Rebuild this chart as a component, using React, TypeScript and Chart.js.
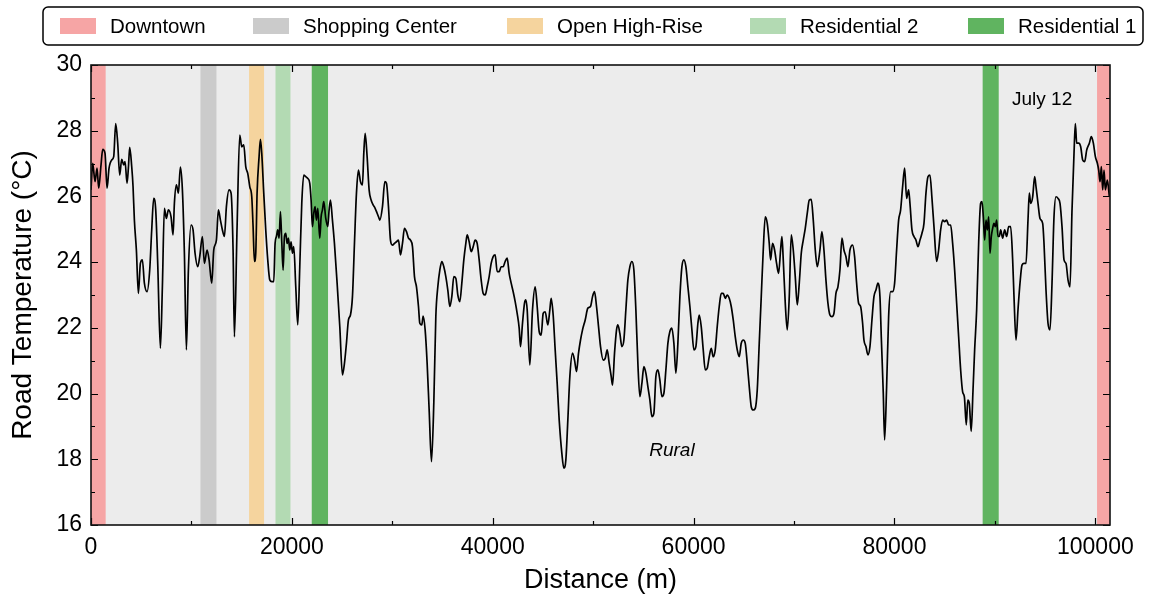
import React, { useEffect, useRef } from "react";
import { Chart, registerables } from "chart.js";

Chart.register(...registerables);

const FONT = "'Liberation Sans', Arial, Helvetica, sans-serif";

// Distance along the route (m)
const distance = [
  0, 169, 401, 601, 767, 999, 1165, 1397, 1597, 1796, 2061, 2261, 2460, 2659, 2858, 3057, 3257, 3389, 3589, 3721,
  3854, 4053, 4186, 4319, 4518, 4717, 4917, 5116, 5315, 5581, 5846, 6045, 6245, 6444, 6643, 6909, 7108, 7307, 7506, 7705,
  7971, 8170, 8303, 8502, 8701, 8901, 9100, 9299, 9498, 9697, 9963, 10162, 10361, 10627, 10826, 11092, 11291, 11557, 11756, 12021,
  12221, 12486, 12685, 12885, 13084, 13283, 13482, 13748, 13947, 14146, 14279, 14545, 14811, 15010, 15209, 15408, 15607, 15807, 16006, 16139,
  16271, 16404, 16537, 16736, 16869, 17002, 17201, 17400, 17599, 17799, 17998, 18197, 18330, 18463, 18595, 18728, 18861, 18994, 19127, 19259,
  19392, 19525, 19658, 19791, 19923, 20056, 20189, 20388, 20587, 20787, 20986, 21185, 21384, 21583, 21783, 21915, 22048, 22181, 22314, 22447,
  22579, 22779, 22911, 23044, 23177, 23376, 23575, 23708, 23841, 24040, 24239, 24505, 24771, 25036, 25235, 25434, 25634, 25833, 26032, 26232,
  26431, 26630, 26829, 27028, 27161, 27294, 27493, 27692, 27891, 28091, 28290, 28489, 28688, 28755, 29021, 29253, 29419, 29618, 29817, 30017,
  30216, 30415, 30614, 30813, 31013, 31212, 31411, 31610, 31809, 32009, 32208, 32407, 32606, 32739, 32938, 33071, 33270, 33469, 33669, 33901,
  34133, 34333, 34532, 34731, 34930, 35129, 35329, 35528, 35727, 35926, 36125, 36325, 36524, 36723, 36922, 37121, 37321, 37453, 37653, 37852,
  38051, 38250, 38449, 38649, 38848, 39047, 39246, 39445, 39645, 39844, 40043, 40242, 40441, 40641, 40840, 41039, 41238, 41437, 41637, 41836,
  42035, 42234, 42433, 42633, 42765, 42965, 43164, 43296, 43429, 43694, 43960, 44226, 44425, 44624, 44823, 45022, 45222, 45487, 45686, 45819,
  46018, 46218, 46417, 46616, 46882, 47081, 47280, 47479, 47678, 47944, 48143, 48342, 48542, 48741, 48940, 49206, 49471, 49737, 49936, 50135,
  50334, 50534, 50733, 50998, 51198, 51397, 51596, 51795, 51928, 52127, 52326, 52459, 52658, 52858, 53057, 53256, 53455, 53654, 53854, 54053,
  54252, 54451, 54650, 54850, 55049, 55248, 55447, 55646, 55846, 56045, 56244, 56443, 56642, 56842, 57041, 57240, 57439, 57638, 57838, 58037,
  58236, 58435, 58635, 58834, 59033, 59232, 59432, 59631, 59830, 60029, 60228, 60428, 60560, 60760, 60959, 61158, 61357, 61556, 61756, 61955,
  62154, 62353, 62552, 62752, 62951, 63150, 63349, 63548, 63748, 63947, 64146, 64345, 64544, 64744, 64943, 65142, 65341, 65540, 65740, 65939,
  66138, 66337, 66536, 66736, 66935, 67134, 67333, 67532, 67665, 67864, 68064, 68263, 68462, 68661, 68794, 68927, 69126, 69326, 69525, 69724,
  69923, 70122, 70322, 70521, 70720, 70919, 71118, 71318, 71517, 71716, 71915, 72114, 72314, 72578, 72777, 72977, 73176, 73375, 73574, 73773,
  73973, 74172, 74371, 74570, 74769, 74969, 75168, 75367, 75566, 75832, 76031, 76230, 76429, 76629, 76828, 76961, 77160, 77359, 77558, 77757,
  77957, 78156, 78355, 78554, 78687, 78886, 79019, 79218, 79418, 79617, 79816, 80015, 80214, 80414, 80613, 80812, 81011, 81210, 81410, 81542,
  81742, 81941, 82140, 82339, 82538, 82738, 82937, 83136, 83335, 83534, 83734, 83933, 84198, 84398, 84597, 84796, 84995, 85194, 85394, 85593,
  85792, 85991, 86191, 86390, 86589, 86788, 86960, 87150, 87300, 87450, 87640, 87820, 87983, 88183, 88382, 88581, 88714, 88847, 88980, 89112,
  89245, 89378, 89511, 89643, 89776, 89909, 90042, 90175, 90307, 90440, 90573, 90772, 90971, 91170, 91370, 91569, 91768, 91901, 92100, 92299,
  92498, 92698, 92897, 93096, 93295, 93428, 93561, 93760, 93959, 94092, 94291, 94491, 94756, 94889, 95088, 95287, 95487, 95686, 95885, 96084,
  96283, 96483, 96682, 96881, 97080, 97279, 97479, 97678, 97877, 98010, 98143, 98342, 98541, 98740, 98940, 99139, 99404, 99603, 99803, 100002,
  100201, 100334, 100467, 100600, 100732, 100865, 100998, 101197, 101397,
];

// Road temperature (°C)
const temperature = [
  26.2, 27.01, 26.45, 26.86, 26.25, 26.96, 27.43, 27.31, 26.25, 26.86, 27.11, 27.21, 28.22, 27.62, 26.65, 27.13, 26.96, 27.06, 26.4, 26.86,
  27.49, 26.91, 26.3, 25.28, 24.37, 23.05, 23.96, 24.07, 23.36, 23.1, 23.76, 24.98, 25.94, 25.59, 23.96, 21.38, 23.26, 25.64, 25.33, 25.59,
  25.38, 24.83, 25.79, 26.35, 26.1, 26.89, 26.2, 24.27, 21.33, 23.76, 25.13, 24.98, 24.27, 23.86, 24.17, 24.78, 23.96, 24.37, 24.07, 23.36,
  24.37, 24.67, 25.59, 25.28, 24.98, 24.78, 25.69, 26.2, 26.1, 24.37, 21.73, 25.08, 27.87, 27.51, 27.57, 26.91, 26.7, 26.3, 25.99, 25.08,
  24.02, 24.27, 26.1, 27.21, 27.74, 27.31, 26.1, 24.98, 24.07, 23.46, 23.41, 23.41, 24.57, 24.78, 24.98, 24.73, 25.54, 24.62, 23.76, 24.78,
  24.88, 24.57, 24.73, 24.37, 24.62, 24.27, 24.47, 23.25, 22.09, 23.86, 25.79, 26.65, 26.6, 26.55, 26.4, 25.89, 25.08, 25.49, 25.69, 25.28,
  25.64, 24.73, 25.38, 25.59, 25.84, 25.33, 25.08, 25.59, 25.89, 25.28, 24.57, 23.36, 22.04, 20.57, 20.92, 21.53, 22.24, 22.39, 22.95, 24.57,
  26.1, 26.8, 26.45, 26.35, 27.31, 27.92, 27.21, 26.2, 25.89, 25.74, 25.64, 25.49, 25.33, 25.28, 25.69, 26.45, 26.4, 25.69, 24.67, 24.52,
  24.57, 24.62, 24.67, 24.22, 24.57, 25.03, 24.93, 24.73, 24.67, 24.47, 23.56, 23.25, 22.65, 22.14, 22.09, 22.36, 21.94, 20.92, 19.5, 17.93,
  19.71, 22.34, 23.25, 23.76, 24.02, 23.86, 23.56, 23.15, 22.65, 22.95, 23.56, 23.51, 23.0, 22.8, 23.36, 24.07, 24.57, 24.83, 24.62, 24.32,
  24.47, 24.67, 24.57, 24.07, 23.46, 23.05, 23.0, 23.25, 23.56, 23.96, 24.17, 24.22, 23.71, 23.71, 23.86, 23.86, 24.02, 24.12, 23.66, 23.36,
  23.1, 22.8, 22.44, 21.99, 21.43, 22.14, 22.75, 22.85, 22.55, 20.87, 22.55, 23.25, 22.65, 21.89, 21.78, 22.44, 22.49, 22.09, 22.55, 22.9,
  22.39, 21.33, 20.31, 19.2, 18.18, 17.73, 17.98, 19.2, 20.52, 21.23, 21.02, 20.67, 21.23, 21.63, 21.94, 22.24, 22.6, 22.65, 22.95, 23.1,
  22.65, 22.04, 21.43, 21.02, 21.07, 21.33, 20.92, 20.52, 20.26, 21.23, 21.94, 22.09, 21.83, 21.43, 21.63, 22.55, 23.46, 23.86, 24.02, 23.76,
  22.55, 20.92, 19.91, 20.31, 20.82, 20.62, 20.21, 19.81, 19.3, 19.4, 20.52, 20.72, 20.41, 19.91, 20.01, 20.72, 21.53, 21.89, 21.99, 21.53,
  20.62, 21.53, 22.95, 23.86, 24.07, 23.86, 23.25, 22.65, 21.94, 21.33, 21.43, 22.14, 22.39, 22.04, 21.33, 20.72, 20.77, 21.12, 21.38, 21.12,
  21.33, 22.04, 22.65, 23.05, 23.05, 22.9, 23.0, 22.9, 22.65, 22.24, 21.73, 21.33, 21.12, 21.53, 21.63, 21.53, 20.92, 20.21, 19.6, 19.5,
  19.55, 20.11, 21.53, 22.95, 24.37, 25.38, 25.18, 24.57, 24.07, 24.57, 24.37, 23.96, 23.66, 24.37, 24.78, 24.07, 22.75, 21.94, 22.95, 24.83,
  24.37, 23.56, 22.7, 23.36, 24.27, 24.67, 25.03, 25.49, 25.89, 25.91, 25.28, 24.37, 23.86, 24.37, 24.93, 24.37, 23.46, 22.75, 22.39, 22.34,
  22.44, 23.05, 23.25, 23.76, 24.73, 24.37, 24.17, 23.86, 24.37, 24.52, 24.17, 23.36, 22.75, 22.65, 22.14, 21.63, 21.43, 21.18, 21.43, 22.24,
  22.95, 23.15, 23.36, 22.95, 21.73, 20.01, 18.59, 20.21, 22.34, 23.1, 23.1, 23.36, 24.37, 25.28, 25.59, 26.3, 26.86, 25.94, 26.2, 25.79,
  24.98, 24.78, 24.67, 24.47, 24.67, 24.88, 25.18, 26.1, 26.6, 26.65, 25.94, 25.08, 24.02, 24.37, 24.98, 25.28, 25.23, 25.28, 25.13, 25.13,
  24.57, 23.76, 22.75, 21.73, 20.72, 20.05, 19.9, 19.05, 19.8, 19.7, 18.85, 20.1, 21.33, 22.55, 24.57, 25.79, 25.84, 25.38, 24.67, 25.28,
  24.98, 25.38, 24.27, 24.78, 25.03, 25.18, 25.08, 25.28, 24.78, 24.78, 24.98, 24.73, 24.98, 24.78, 25.08, 25.08, 24.07, 22.95, 21.63, 22.55,
  23.36, 23.91, 23.96, 23.96, 25.28, 26.1, 25.79, 25.99, 26.6, 26.3, 25.79, 25.33, 25.18, 24.57, 23.15, 22.14, 21.94, 23.36, 25.38, 25.99,
  25.94, 25.79, 25.08, 24.07, 23.96, 23.46, 23.25, 25.59, 27.31, 28.22, 27.62, 27.62, 27.51, 27.11, 27.06, 27.41, 27.62, 27.82, 27.62, 27.21,
  27.01, 26.8, 26.45, 26.91, 26.2, 26.8, 26.2, 26.5, 25.99,
];

// Zone categories (legend)
const zoneNames = ["Downtown", "Shopping Center", "Open High-Rise", "Residential 2", "Residential 1"];
const zoneColors = ["#f6a5a5", "#cbcbcb", "#f5d49e", "#b3dab3", "#60b460"];

// Zone bands along the route (zone index, start m, end m)
const bandZone = [0, 1, 2, 3, 4, 4, 0];
const bandStart = [0, 10900, 15740, 18370, 21980, 88780, 100170];
const bandEnd = [1460, 12490, 17230, 19860, 23600, 90380, 101460];

// Axis ranges and tick labels
const X_MIN = 0;
const X_MAX = 101460;
const Y_MIN = 16;
const Y_MAX = 30;
const xTickValues = [0, 20000, 40000, 60000, 80000, 100000];
const xMinorTickValues = [10000, 30000, 50000, 70000, 90000];
const yTickValues = [16, 18, 20, 22, 24, 26, 28, 30];
const yMinorTickValues = [17, 19, 21, 23, 25, 27, 29];

// Text annotations (data coordinates)
const dateLabel = "July 12";
const dateLabelPos = { x: 94700, y: 28.93 };
const ruralLabel = "Rural";
const ruralLabelPos = { x: 57840, y: 18.25 };

// Legend layout (pixels)
const LEGEND_BOX = { left: 43, top: 7, right: 1143, bottom: 45 };
const legendItemX = [60, 253, 507, 750, 968];

const decorPlugin = {
  id: "decor",
  beforeDatasetsDraw(chart: any) {
    const { ctx, chartArea: a, scales } = chart;
    const x = scales.x;
    ctx.save();
    ctx.fillStyle = "#ececec";
    ctx.fillRect(a.left, a.top, a.right - a.left, a.bottom - a.top);
    for (let i = 0; i < bandZone.length; i++) {
      const x0 = Math.max(a.left, x.getPixelForValue(bandStart[i]));
      const x1 = Math.min(a.right, x.getPixelForValue(bandEnd[i]));
      ctx.fillStyle = zoneColors[bandZone[i]];
      ctx.fillRect(x0, a.top, x1 - x0, a.bottom - a.top);
    }
    ctx.restore();
  },
  afterDatasetsDraw(chart: any) {
    const { ctx, chartArea: a, scales } = chart;
    const x = scales.x;
    const y = scales.y;
    ctx.save();
    ctx.strokeStyle = "#000";
    ctx.lineWidth = 1.2;
    ctx.beginPath();
    const xt = (v: number, len: number) => {
      const px = Math.round(x.getPixelForValue(v)) + 0.5;
      ctx.moveTo(px, a.bottom);
      ctx.lineTo(px, a.bottom - len);
      ctx.moveTo(px, a.top);
      ctx.lineTo(px, a.top + len);
    };
    const yt = (v: number, len: number) => {
      const py = Math.round(y.getPixelForValue(v)) + 0.5;
      ctx.moveTo(a.left, py);
      ctx.lineTo(a.left + len, py);
      ctx.moveTo(a.right, py);
      ctx.lineTo(a.right - len, py);
    };
    xTickValues.forEach((v) => xt(v, 7));
    xMinorTickValues.forEach((v) => xt(v, 4));
    yTickValues.forEach((v) => yt(v, 7));
    yMinorTickValues.forEach((v) => yt(v, 4));
    ctx.stroke();
    ctx.lineWidth = 1.6;
    ctx.strokeStyle = "#111";
    ctx.strokeRect(a.left, a.top, a.right - a.left, a.bottom - a.top);
    ctx.fillStyle = "#000";
    ctx.textAlign = "center";
    ctx.textBaseline = "middle";
    ctx.font = `19px ${FONT}`;
    ctx.fillText(dateLabel, x.getPixelForValue(dateLabelPos.x), y.getPixelForValue(dateLabelPos.y));
    ctx.font = `italic 19px ${FONT}`;
    ctx.fillText(ruralLabel, x.getPixelForValue(ruralLabelPos.x), y.getPixelForValue(ruralLabelPos.y));
    ctx.restore();
  },
  afterDraw(chart: any) {
    const { ctx } = chart;
    const b = LEGEND_BOX;
    ctx.save();
    ctx.strokeStyle = "#000";
    ctx.lineWidth = 1.5;
    ctx.beginPath();
    const r = 5;
    ctx.moveTo(b.left + r, b.top);
    ctx.arcTo(b.right, b.top, b.right, b.bottom, r);
    ctx.arcTo(b.right, b.bottom, b.left, b.bottom, r);
    ctx.arcTo(b.left, b.bottom, b.left, b.top, r);
    ctx.arcTo(b.left, b.top, b.right, b.top, r);
    ctx.closePath();
    ctx.stroke();
    const cy = (b.top + b.bottom) / 2;
    ctx.font = `20.5px ${FONT}`;
    ctx.textAlign = "left";
    ctx.textBaseline = "middle";
    for (let i = 0; i < zoneNames.length; i++) {
      ctx.fillStyle = zoneColors[i];
      ctx.fillRect(legendItemX[i], cy - 8, 36, 16);
      ctx.fillStyle = "#000";
      ctx.fillText(zoneNames[i], legendItemX[i] + 50, cy + 1);
    }
    ctx.restore();
  },
};

export default function App() {
  const canvasRef = useRef<HTMLCanvasElement | null>(null);

  useEffect(() => {
    const canvas = canvasRef.current;
    if (!canvas) return;
    const points = distance.map((d, i) => ({ x: d, y: temperature[i] }));
    const chart = new Chart(canvas, {
      type: "line",
      data: {
        datasets: [
          {
            data: points,
            borderColor: "#000",
            borderWidth: 1.7,
            pointRadius: 0,
            fill: false,
            cubicInterpolationMode: "monotone",
          },
        ],
      },
      options: {
        animation: false,
        responsive: false,
        maintainAspectRatio: false,
        parsing: false,
        layout: { padding: { left: 0, right: 41, top: 65, bottom: 0 } },
        plugins: {
          legend: { display: false },
          tooltip: { enabled: false },
        },
        scales: {
          x: {
            type: "linear",
            min: X_MIN,
            max: X_MAX,
            afterBuildTicks(scale: any) {
              scale.ticks = xTickValues.map((v) => ({ value: v }));
            },
            afterFit(scale: any) {
              scale.height = 74;
            },
            grid: { display: false, drawTicks: false },
            border: { display: false },
            ticks: {
              maxRotation: 0,
              autoSkip: false,
              color: "#000",
              padding: 9,
              font: { family: FONT, size: 23 },
              callback: (v: any) => String(v),
            },
            title: {
              display: true,
              text: "Distance (m)",
              color: "#000",
              font: { family: FONT, size: 27 },
              padding: { top: 0, bottom: 2 },
            },
          },
          y: {
            type: "linear",
            min: Y_MIN,
            max: Y_MAX,
            afterBuildTicks(scale: any) {
              scale.ticks = yTickValues.map((v) => ({ value: v }));
            },
            afterFit(scale: any) {
              scale.width = 91;
            },
            grid: { display: false, drawTicks: false },
            border: { display: false },
            ticks: {
              color: "#000",
              padding: 9,
              font: { family: FONT, size: 23 },
              callback: (v: any) => String(v),
            },
            title: {
              display: true,
              text: "Road Temperature (°C)",
              color: "#000",
              font: { family: FONT, size: 28 },
              padding: { top: 6, bottom: 0 },
            },
          },
        },
      },
      plugins: [decorPlugin],
    });
    return () => chart.destroy();
  }, []);

  return (
    <div style={{ position: "absolute", left: 0, top: 0, width: 1151, height: 599, background: "#fff" }}>
      <canvas ref={canvasRef} width={1151} height={599} style={{ display: "block", width: 1151, height: 599 }} />
    </div>
  );
}
